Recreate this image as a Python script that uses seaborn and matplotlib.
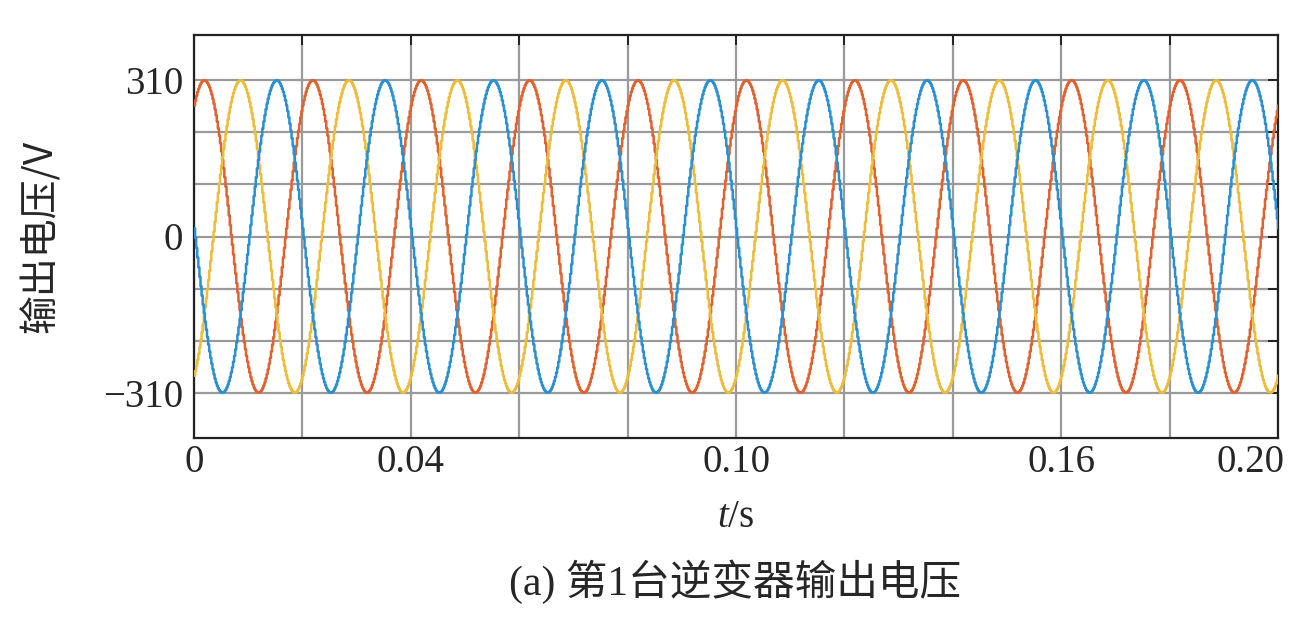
import numpy as np
import pandas as pd
import seaborn as sns
import matplotlib.pyplot as plt
import matplotlib.transforms as mtransforms

# waveform parameters (three-phase, 50 Hz, 310 V peak)
amplitude = 310
freq = 50
phase_names = ["A", "B", "C"]
phase_deg = [57, -63, -183]          # red, yellow, blue
phase_colors = ["#e0622f", "#ecbc3a", "#2b90d2"]
t_end = 0.20
dt = 2e-4                            # controller sample step (gives the small stairs)

x_ticks = [0, 0.02, 0.04, 0.06, 0.08, 0.10, 0.12, 0.14, 0.16, 0.18, 0.20]
x_labels = ["0", "", "0.04", "", "", "0.10", "", "", "0.16", "", "0.20"]
y_ticks = [-310, -620 / 3, -310 / 3, 0, 310 / 3, 620 / 3, 310]
y_labels = ["\u2212310", "", "", "0", "", "", "310"]

t = np.arange(0, t_end + dt, dt)
frames = []
for name, ph in zip(phase_names, phase_deg):
    v = amplitude * np.sin(2 * np.pi * freq * t + np.deg2rad(ph))
    frames.append(pd.DataFrame({"t": t, "v": v, "phase": name}))
df = pd.concat(frames, ignore_index=True)

sns.set_style("white")
plt.rcParams['font.family'] = ['Liberation Serif', 'Noto Sans CJK SC']
plt.rcParams['axes.unicode_minus'] = False
plt.rcParams['mathtext.fontset'] = 'custom'
plt.rcParams['mathtext.it'] = 'Liberation Serif:italic'
plt.rcParams['mathtext.rm'] = 'Liberation Serif'

fig = plt.figure(figsize=(13.06, 6.4), dpi=100)
ax = fig.add_axes([194 / 1306, 1 - 438 / 640, (1278 - 194) / 1306, (438 - 35) / 640])

sns.lineplot(data=df, x="t", y="v", hue="phase", palette=phase_colors,
             estimator=None, drawstyle="steps-post", linewidth=1.8,
             legend=False, ax=ax, zorder=3)

ax.set_xlim(0, t_end)
ax.set_ylim(-400, 400)
ax.set_xticks(x_ticks)
ax.set_xticklabels(x_labels)
ax.set_yticks(y_ticks)
ax.set_yticklabels(y_labels)
ax.grid(True, color="#9a9a9a", linewidth=1.6, zorder=0)
ax.tick_params(direction="in", length=7, width=1.4, top=True, right=True,
               labelsize=28, color="#222222")
ax.tick_params(axis="x", pad=4)
ax.tick_params(axis="y", pad=8)
for s in ax.spines.values():
    s.set_color("#222222")
    s.set_linewidth(1.6)

# the last x label sits a bit to the left so it stays inside the figure
last = ax.get_xticklabels()[-1]
last.set_transform(last.get_transform() + mtransforms.ScaledTranslation(-0.27, 0, fig.dpi_scale_trans))

ax.set_xlabel("$\\it{t}$/s", fontsize=28, va="center")
ax.xaxis.set_label_coords(0.5, -0.1985)
ax.set_ylabel("输出电压/V", fontsize=28, va="center",
              family=['Noto Sans CJK SC', 'Liberation Serif'])
ax.yaxis.set_label_coords((41 - 194) / 1084, 0.5)

fig.text(735 / 1306, 1 - 582 / 640, "(a) 第1台逆变器输出电压", fontsize=30,
         ha="center", va="center")

fig.savefig("out.png", dpi=100, facecolor="white")
